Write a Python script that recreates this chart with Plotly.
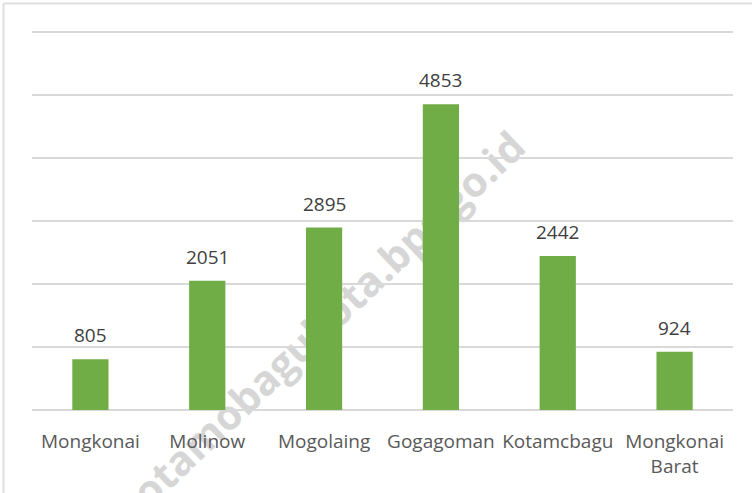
import plotly.graph_objects as go
import base64

categories = ["Mongkonai", "Molinow", "Mogolaing", "Gogagoman", "Kotamcbagu", "Mongkonai<br>Barat"]
values = [805, 2051, 2895, 4853, 2442, 924]
watermark_text = "kotamobagukota.bps.go.id"

W, H = 752, 493
ML, MR, MT, MB = 32, 19, 30, 83
PW, PH = W - ML - MR, H - MT - MB


def px_x(px):
    return (px - ML) / PW


def px_y(py):
    return (H - MB - py) / PH


fig = go.Figure()
fig.add_trace(go.Bar(
    x=categories, y=values,
    marker=dict(color="#70AD47", line=dict(width=0)),
    width=0.31,
    hoverinfo="x+y",
))

for c, v in zip(categories, values):
    fig.add_annotation(x=c, y=v, text=str(v), showarrow=False,
                       yanchor="middle", yshift=24,
                       font=dict(family="Open Sans", size=19, color="#404040"))

svg = f'''<svg xmlns="http://www.w3.org/2000/svg" width="{W}" height="{H}" viewBox="0 0 {W} {H}">
<text x="528" y="150" text-anchor="end" font-family="Open Sans" font-weight="bold" font-size="41"
 fill="#d6d6d6" transform="rotate(-43.5 528 150)">{watermark_text}</text></svg>'''
src = "data:image/svg+xml;base64," + base64.b64encode(svg.encode()).decode()
fig.add_layout_image(dict(source=src, xref="paper", yref="paper",
                          x=px_x(0), y=px_y(0), sizex=W / PW, sizey=H / PH,
                          xanchor="left", yanchor="top", sizing="stretch", layer="below"))

# frame lines (left and top)
fig.add_shape(type="line", xref="paper", yref="paper",
              x0=px_x(3.5), x1=px_x(W), y0=px_y(3.5), y1=px_y(3.5),
              line=dict(color="#dedede", width=2))
fig.add_shape(type="line", xref="paper", yref="paper",
              x0=px_x(3.5), x1=px_x(3.5), y0=px_y(3.5), y1=px_y(H),
              line=dict(color="#dedede", width=2))

fig.update_layout(
    width=W, height=H,
    margin=dict(l=ML, r=MR, t=MT, b=MB),
    paper_bgcolor="white", plot_bgcolor="rgba(0,0,0,0)",
    showlegend=False,
    xaxis=dict(type="category", showgrid=False, zeroline=False, showline=False, ticks="",
               tickfont=dict(family="Open Sans", size=19, color="#595959"),
               ticklabelstandoff=18),
    yaxis=dict(range=[0, 6030], tickvals=[1000, 2000, 3000, 4000, 5000, 6000],
               showticklabels=False, showgrid=True,
               gridcolor="#d9d9d9", gridwidth=1.5, zeroline=True, zerolinecolor="#d9d9d9",
               zerolinewidth=1.5, showline=False, ticks=""),
)

fig.write_html("out.html", config={"displayModeBar": False},
               post_script="document.body.style.margin='0';document.body.style.overflow='hidden';")
